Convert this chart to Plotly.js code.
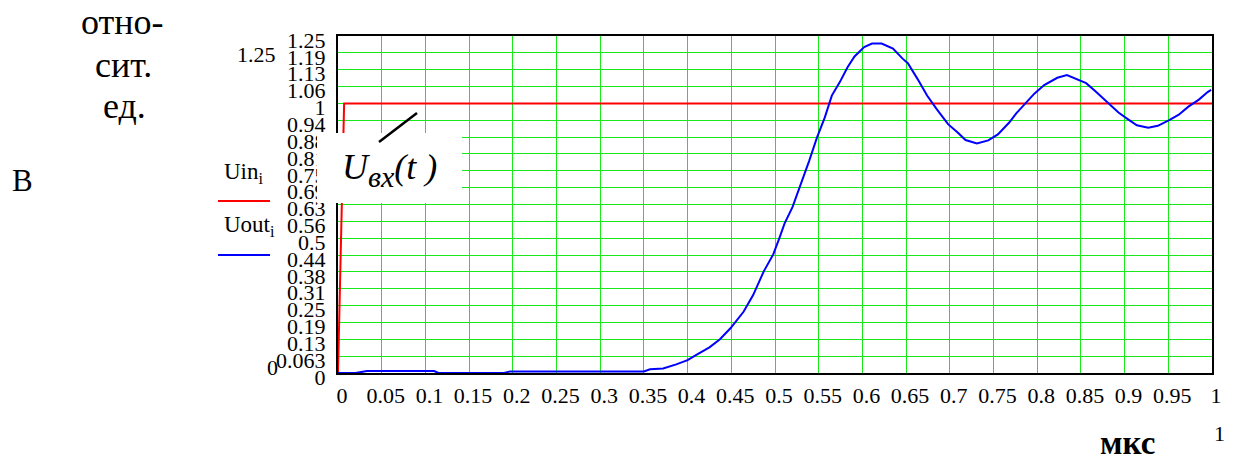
<!DOCTYPE html>
<html>
<head>
<meta charset="utf-8">
<script src="https://cdn.plot.ly/plotly-3.0.1.min.js"></script>
<style>html,body{margin:0;padding:0;background:#fff;}#chart{width:1234px;height:461px;}</style>
</head>
<body>
<div id="chart"></div>
<script>
// ---- data ----
const xTickVals = [0,0.05,0.1,0.15,0.2,0.25,0.3,0.35,0.4,0.45,0.5,0.55,0.6,0.65,0.7,0.75,0.8,0.85,0.9,0.95,1];
const xTickText = ["0","0.05","0.1","0.15","0.2","0.25","0.3","0.35","0.4","0.45","0.5","0.55","0.6","0.65","0.7","0.75","0.8","0.85","0.9","0.95","1"];
const yTickVals = [0,0.0625,0.125,0.1875,0.25,0.3125,0.375,0.4375,0.5,0.5625,0.625,0.6875,0.75,0.8125,0.875,0.9375,1,1.0625,1.125,1.1875,1.25];
const yTickText = ["0","0.063","0.13","0.19","0.25","0.31","0.38","0.44","0.5","0.56","0.63","0.69","0.75","0.81","0.88","0.94","1","1.06","1.13","1.19","1.25"];

const tIn = [0, 0.007, 1];
const uIn = [0, 1, 1];

const tOut = [0,0.02,0.033,0.11,0.115,0.19,0.197,0.35,0.357,0.372,0.387,0.40,0.41,0.425,0.437,0.449,0.464,0.475,0.487,0.498,0.505,0.511,0.520,0.528,0.539,0.548,0.557,0.565,0.574,0.583,0.591,0.602,0.611,0.622,0.635,0.646,0.652,0.663,0.674,0.685,0.698,0.709,0.718,0.731,0.744,0.755,0.768,0.776,0.787,0.797,0.808,0.823,0.834,0.845,0.856,0.866,0.880,0.893,0.904,0.914,0.927,0.938,0.951,0.962,0.973,0.985,0.995,0.999];
const uOut = [0,0,0.007,0.007,0,0,0.006,0.006,0.014,0.017,0.032,0.048,0.067,0.095,0.125,0.166,0.227,0.289,0.376,0.44,0.50,0.555,0.615,0.686,0.786,0.873,0.948,1.029,1.078,1.134,1.174,1.209,1.222,1.222,1.203,1.166,1.149,1.091,1.029,0.979,0.923,0.892,0.864,0.851,0.863,0.885,0.929,0.963,1.0,1.037,1.068,1.095,1.105,1.091,1.075,1.047,1.004,0.966,0.941,0.919,0.910,0.917,0.938,0.958,0.988,1.014,1.042,1.05];

// ---- layout helpers (pixel -> paper) ----
const L = 338, R = 1212, T = 36, B = 373;
const px = v => (v - L) / (R - L);
const py = v => (B - v) / (B - T);
const serif = "Liberation Serif, Times New Roman, serif";
const GREEN = "rgb(25,232,25)";

const traces = [
  {x: tIn, y: uIn, mode: "lines", line: {color: "#ff0000", width: 2}, name: "Uin", hoverinfo: "skip"},
  {x: tOut, y: uOut, mode: "lines", line: {color: "#0000ff", width: 2}, name: "Uout", hoverinfo: "skip"}
];

function ann(text, x, y, size, opts) {
  return Object.assign({
    text: text, xref: "paper", yref: "paper", x: px(x), y: py(y),
    showarrow: false, xanchor: "center", yanchor: "middle",
    font: {family: serif, size: size, color: "#000"}
  }, opts || {});
}

const layout = {
  width: 1234, height: 461,
  margin: {l: L, r: 1234 - R, t: T, b: 461 - B, pad: 0},
  paper_bgcolor: "#fff", plot_bgcolor: "#fff",
  showlegend: false,
  xaxis: {
    range: [0, 1], tickmode: "array", tickvals: xTickVals, ticktext: xTickText,
    showgrid: true, gridcolor: GREEN, gridwidth: 1,
    showline: true, mirror: true, linecolor: "#000", linewidth: 2,
    zeroline: false, ticks: "", ticklabelstandoff: 2, ticklabelshift: 4,
    tickfont: {family: serif, size: 22, color: "#000"}
  },
  yaxis: {
    range: [0, 1.25], tickmode: "array", tickvals: yTickVals, ticktext: yTickText,
    showgrid: true, gridcolor: GREEN, gridwidth: 1,
    showline: true, mirror: true, linecolor: "#000", linewidth: 2,
    zeroline: false, ticks: "", ticklabelstandoff: 6, ticklabelshift: 4,
    tickfont: {family: serif, size: 22, color: "#000"}
  },
  shapes: [
    {type: "rect", xref: "paper", yref: "paper", x0: px(317), x1: px(462), y0: py(133), y1: py(203),
     fillcolor: "#fff", line: {width: 0}, layer: "above"},
    {type: "line", xref: "paper", yref: "paper", x0: px(379), y0: py(142), x1: px(417), y1: py(113),
     line: {color: "#000", width: 2.5}, layer: "above"},
    {type: "line", xref: "paper", yref: "paper", x0: px(218), y0: py(201), x1: px(270), y1: py(201),
     line: {color: "#ff0000", width: 2}, layer: "above"},
    {type: "line", xref: "paper", yref: "paper", x0: px(218), y0: py(255), x1: px(270), y1: py(255),
     line: {color: "#0000ff", width: 2}, layer: "above"}
  ],
  annotations: [
    ann("отно-", 122, 22, 36),
    ann("сит.", 123, 65, 36),
    ann("ед.", 124, 106, 36),
    ann("В", 22, 180, 31),
    ann("1.25", 278, 55, 22, {xanchor: "right"}),
    ann("0", 272, 367, 22),
    ann("Uin<sub>i</sub>", 222, 173, 23, {xanchor: "left"}),
    ann("Uout<sub>i</sub>", 222, 226, 23, {xanchor: "left"}),
    ann("<i>U</i><sub><i><span style=\"font-size:30px\">вх</span></i></sub><i>(t )</i>", 389, 170, 36),
    ann("<b>мкс</b>", 1127, 443, 33),
    ann("1", 1219, 433, 22)
  ]
};

Plotly.newPlot("chart", traces, layout, {staticPlot: true, displayModeBar: false});
</script>
</body>
</html>
